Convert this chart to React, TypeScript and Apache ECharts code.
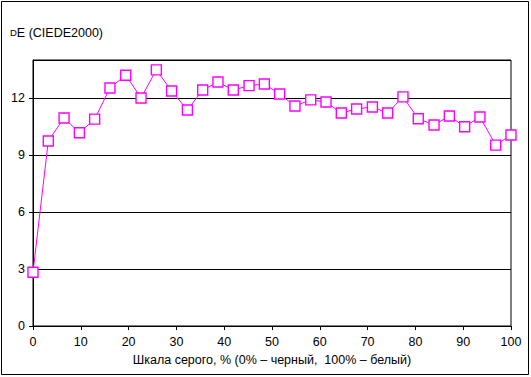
import React, { useEffect, useRef } from "react";
import * as echarts from "echarts";

const grayLevels = [0, 3.2, 6.5, 9.7, 12.9, 16.1, 19.4, 22.6, 25.8, 29.0, 32.3, 35.5, 38.7, 41.9, 45.2, 48.4, 51.6, 54.8, 58.1, 61.3, 64.5, 67.7, 71.0, 74.2, 77.4, 80.6, 83.9, 87.1, 90.3, 93.5, 96.8, 100];
const deltaE = [2.83, 9.74, 10.95, 10.17, 10.89, 12.53, 13.2, 12.0, 13.48, 12.37, 11.37, 12.42, 12.84, 12.42, 12.65, 12.74, 12.21, 11.58, 11.9, 11.79, 11.21, 11.42, 11.53, 11.21, 12.06, 10.91, 10.58, 11.05, 10.49, 11.0, 9.52, 10.05];
const yTicks = [0, 3, 6, 9, 12];
const xAxisTitle = "Шкала серого, % (0% – черный,  100% – белый)";

export default function App() {
  const ref = useRef<HTMLDivElement>(null);
  useEffect(() => {
    document.body.style.margin = "0";
    const chart = echarts.init(ref.current!, null, { renderer: "svg" });
    const font = "'Liberation Sans', Arial, sans-serif";
    chart.setOption({
      animation: false,
      backgroundColor: "#fff",
      grid: { left: 33, right: 20, top: 60, bottom: 51, show: true, borderColor: "#000", borderWidth: 1 },
      graphic: [
        { type: "rect", shape: { x: 1.5, y: 1.5, width: 527, height: 373 }, style: { fill: "none", stroke: "#000", lineWidth: 1 }, silent: true },
        {
          type: "text", left: 10, top: 26,
          style: {
            text: "{s|D}E (CIEDE2000)",
            font: `12.5px ${font}`,
            fill: "#000",
            rich: { s: { fontSize: 9.5, fontFamily: font, fill: "#000" } },
          },
        },
      ],
      xAxis: {
        type: "value", min: 0, max: 100, interval: 10,
        name: xAxisTitle, nameLocation: "middle", nameGap: 27,
        nameTextStyle: { color: "#000", fontSize: 12.5, fontFamily: font },
        axisLine: { show: true, onZero: false, lineStyle: { color: "#000" } },
        axisTick: { show: true, length: 4, lineStyle: { color: "#000" } },
        axisLabel: { color: "#000", fontSize: 12.5, fontFamily: font, margin: 9 },
        splitLine: { show: false },
      },
      yAxis: {
        type: "value", min: 0, max: 14, interval: 3,
        axisLine: { show: true, lineStyle: { color: "#000" } },
        axisTick: { show: true, length: 4, lineStyle: { color: "#000" } },
        axisLabel: {
          color: "#000", fontSize: 12.5, fontFamily: font, margin: 8, showMaxLabel: false,
          formatter: (v: number) => (yTicks.includes(v) ? String(v) : ""),
        },
        splitLine: { show: true, lineStyle: { color: "#000", width: 1 } },
      },
      series: [
        {
          type: "line",
          data: grayLevels.map((x, i) => [x, deltaE[i]]),
          symbol: "rect", symbolSize: 10,
          lineStyle: { color: "#ff00ff", width: 1 },
          itemStyle: { color: "#fff", borderColor: "#ff00ff", borderWidth: 1.4 },
          clip: false,
        },
      ],
    });
    return () => chart.dispose();
  }, []);
  return <div ref={ref} style={{ width: 531, height: 377 }} />;
}
